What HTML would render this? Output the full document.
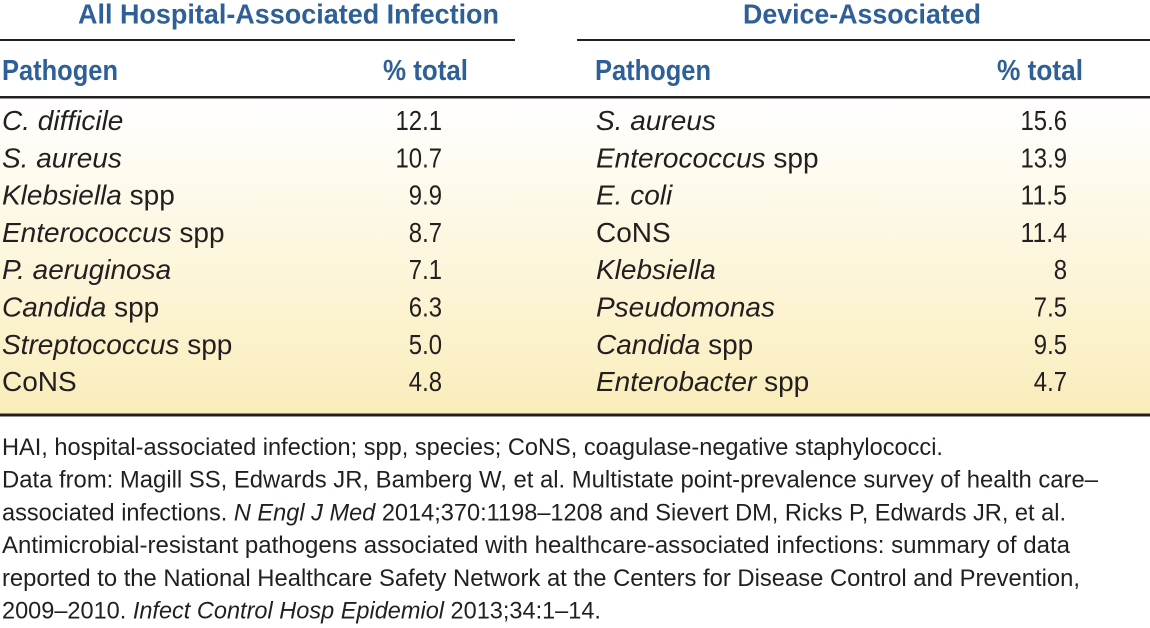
<!DOCTYPE html>
<html>
<head>
<meta charset="utf-8">
<style>
  html,body{margin:0;padding:0;background:#ffffff;}
  svg{display:block;}
  .t{font-family:"Liberation Sans",Arial,sans-serif;}
  .h{font-family:"Liberation Sans",Arial,sans-serif;font-weight:bold;fill:#2f5f97;}
  .r{font-family:"Liberation Sans",Arial,sans-serif;font-size:28px;fill:#231f20;}
  .f{font-family:"Liberation Sans",Arial,sans-serif;font-size:24.5px;fill:#231f20;}
  .i{font-style:italic;}
</style>
</head>
<body>
<svg width="1150" height="628" viewBox="0 0 1150 628" xmlns="http://www.w3.org/2000/svg">
  <defs>
    <linearGradient id="bg" x1="0" y1="0" x2="0" y2="1">
      <stop offset="0" stop-color="#ffffff"/>
      <stop offset="1" stop-color="#faedbb"/>
    </linearGradient>
  </defs>
  <rect x="0" y="0" width="1150" height="628" fill="#ffffff"/>
  <rect x="0" y="98" width="1150" height="316" fill="url(#bg)"/>

  <!-- Titles -->
  <text class="h" x="78" y="23.5" font-size="28" textLength="421" lengthAdjust="spacingAndGlyphs">All Hospital-Associated Infection</text>
  <text class="h" x="743" y="23.5" font-size="28" textLength="238" lengthAdjust="spacingAndGlyphs">Device-Associated</text>

  <!-- title rules -->
  <rect x="0" y="39" width="515" height="2" fill="#231f20"/>
  <rect x="577" y="39" width="573" height="2" fill="#231f20"/>

  <!-- Column headers -->
  <text class="h" x="2" y="80" font-size="29" textLength="116" lengthAdjust="spacingAndGlyphs">Pathogen</text>
  <text class="h" x="383" y="80" font-size="29" textLength="85" lengthAdjust="spacingAndGlyphs">% total</text>
  <text class="h" x="595" y="80" font-size="29" textLength="116" lengthAdjust="spacingAndGlyphs">Pathogen</text>
  <text class="h" x="997" y="80" font-size="29" textLength="86" lengthAdjust="spacingAndGlyphs">% total</text>

  <!-- header rule -->
  <rect x="0" y="96" width="1150" height="2.5" fill="#231f20"/>

  <!-- Left table rows -->
  <text class="r" x="2" y="130"><tspan class="i">C. difficile</tspan></text>
  <text class="r" x="2" y="167.3"><tspan class="i">S. aureus</tspan></text>
  <text class="r" x="2" y="204.6"><tspan class="i">Klebsiella</tspan> spp</text>
  <text class="r" x="2" y="241.9"><tspan class="i">Enterococcus</tspan> spp</text>
  <text class="r" x="2" y="279.2"><tspan class="i">P. aeruginosa</tspan></text>
  <text class="r" x="2" y="316.5"><tspan class="i">Candida</tspan> spp</text>
  <text class="r" x="2" y="353.8"><tspan class="i">Streptococcus</tspan> spp</text>
  <text class="r" x="2" y="391.1">CoNS</text>

  <text class="r" x="395.5" y="130" textLength="46.5" lengthAdjust="spacingAndGlyphs">12.1</text>
  <text class="r" x="395.5" y="167.3" textLength="46.5" lengthAdjust="spacingAndGlyphs">10.7</text>
  <text class="r" x="408.8" y="204.6" textLength="33.2" lengthAdjust="spacingAndGlyphs">9.9</text>
  <text class="r" x="408.8" y="241.9" textLength="33.2" lengthAdjust="spacingAndGlyphs">8.7</text>
  <text class="r" x="408.8" y="279.2" textLength="33.2" lengthAdjust="spacingAndGlyphs">7.1</text>
  <text class="r" x="408.8" y="316.5" textLength="33.2" lengthAdjust="spacingAndGlyphs">6.3</text>
  <text class="r" x="408.8" y="353.8" textLength="33.2" lengthAdjust="spacingAndGlyphs">5.0</text>
  <text class="r" x="408.8" y="391.1" textLength="33.2" lengthAdjust="spacingAndGlyphs">4.8</text>

  <!-- Right table rows -->
  <text class="r" x="596" y="130"><tspan class="i">S. aureus</tspan></text>
  <text class="r" x="596" y="167.3"><tspan class="i">Enterococcus</tspan> spp</text>
  <text class="r" x="596" y="204.6"><tspan class="i">E. coli</tspan></text>
  <text class="r" x="596" y="241.9">CoNS</text>
  <text class="r" x="596" y="279.2"><tspan class="i">Klebsiella</tspan></text>
  <text class="r" x="596" y="316.5"><tspan class="i">Pseudomonas</tspan></text>
  <text class="r" x="596" y="353.8"><tspan class="i">Candida</tspan> spp</text>
  <text class="r" x="596" y="391.1"><tspan class="i">Enterobacter</tspan> spp</text>

  <text class="r" x="1020.5" y="130" textLength="46.5" lengthAdjust="spacingAndGlyphs">15.6</text>
  <text class="r" x="1020.5" y="167.3" textLength="46.5" lengthAdjust="spacingAndGlyphs">13.9</text>
  <text class="r" x="1020.5" y="204.6" textLength="46.5" lengthAdjust="spacingAndGlyphs">11.5</text>
  <text class="r" x="1020.5" y="241.9" textLength="46.5" lengthAdjust="spacingAndGlyphs">11.4</text>
  <text class="r" x="1053.7" y="279.2" textLength="13.3" lengthAdjust="spacingAndGlyphs">8</text>
  <text class="r" x="1033.8" y="316.5" textLength="33.2" lengthAdjust="spacingAndGlyphs">7.5</text>
  <text class="r" x="1033.8" y="353.8" textLength="33.2" lengthAdjust="spacingAndGlyphs">9.5</text>
  <text class="r" x="1033.8" y="391.1" textLength="33.2" lengthAdjust="spacingAndGlyphs">4.7</text>

  <!-- bottom rule -->
  <rect x="0" y="413.5" width="1150" height="3" fill="#231f20"/>

  <!-- Footnotes -->
  <text class="f" x="2" y="455" textLength="941" lengthAdjust="spacingAndGlyphs">HAI, hospital-associated infection; spp, species; CoNS, coagulase-negative staphylococci.</text>
  <text class="f" x="2" y="487.7" textLength="1096" lengthAdjust="spacingAndGlyphs">Data from: Magill SS, Edwards JR, Bamberg W, et al. Multistate point-prevalence survey of health care–</text>
  <text class="f" x="2" y="520.4" textLength="1064" lengthAdjust="spacingAndGlyphs">associated infections. <tspan class="i">N Engl J Med</tspan> 2014;370:1198–1208 and Sievert DM, Ricks P, Edwards JR, et al.</text>
  <text class="f" x="2" y="553.1" textLength="1068" lengthAdjust="spacingAndGlyphs">Antimicrobial-resistant pathogens associated with healthcare-associated infections: summary of data</text>
  <text class="f" x="2" y="585.8" textLength="1078" lengthAdjust="spacingAndGlyphs">reported to the National Healthcare Safety Network at the Centers for Disease Control and Prevention,</text>
  <text class="f" x="2" y="618.5" textLength="599" lengthAdjust="spacingAndGlyphs">2009–2010. <tspan class="i">Infect Control Hosp Epidemiol</tspan> 2013;34:1–14.</text>
</svg>
</body>
</html>
